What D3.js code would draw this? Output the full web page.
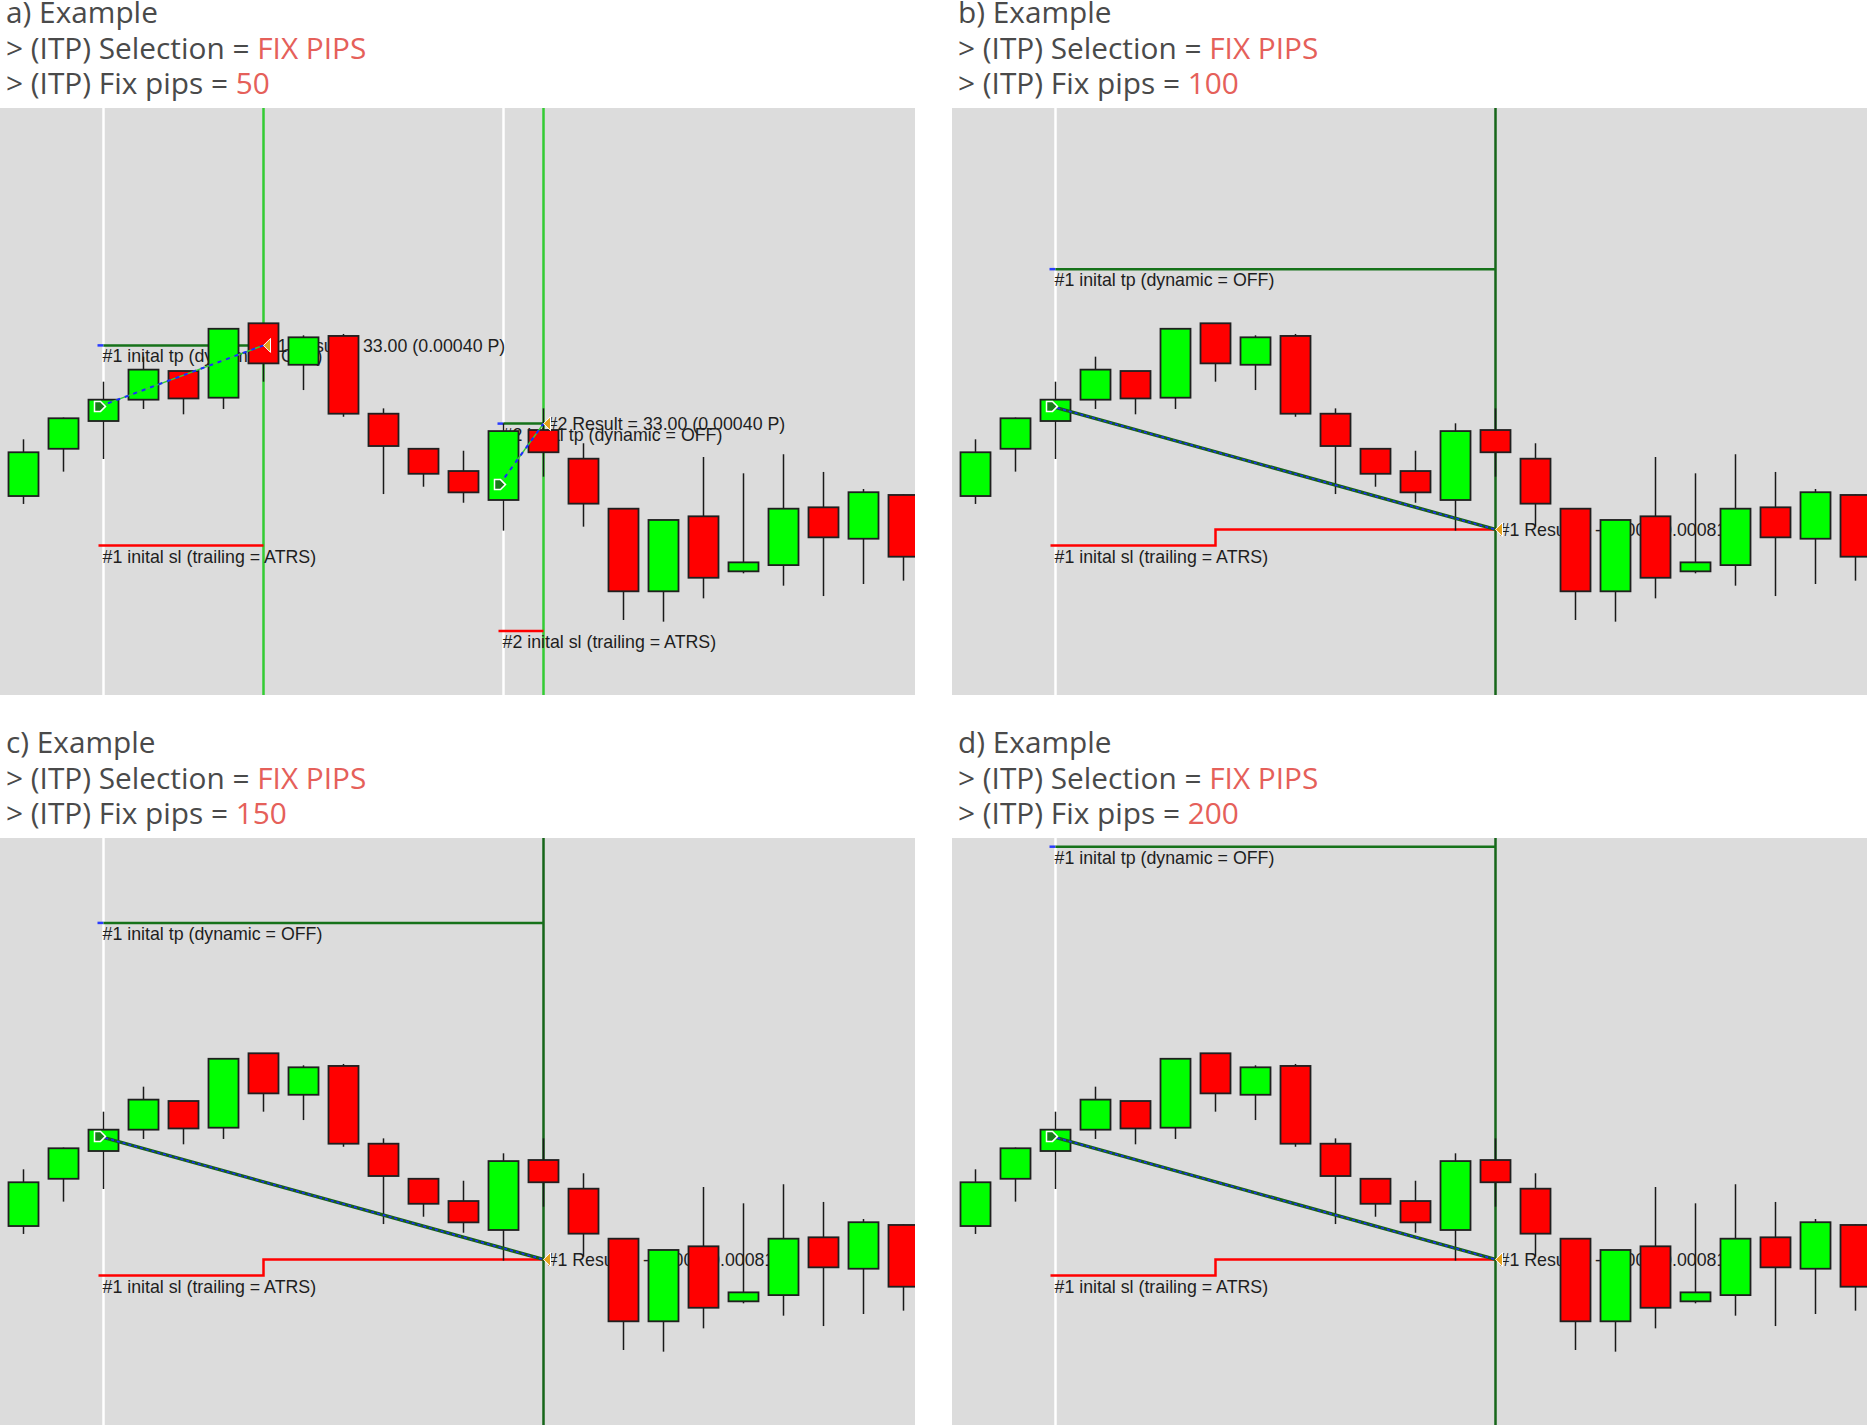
<!DOCTYPE html>
<html><head><meta charset="utf-8">
<script src="https://cdn.jsdelivr.net/npm/d3@7"></script>
<style>body{margin:0;background:#fff;} svg{display:block}</style>
</head><body><svg id="chart" width="1867" height="1426"></svg>
<script>
// ---------- data ----------
const panelNames = ["a", "b", "c", "d"];
const selectionValue = ["FIX PIPS", "FIX PIPS", "FIX PIPS", "FIX PIPS"];
const fixPips = [50, 100, 150, 200];

// price in points (0.00001)
const candleOpen  = [130.5,161.5,179.7,193.7,212.5,195.0,243.8,216.6,235.5,184.5,161.5,146.9,127.9,173.8,155.0,122.2, 68.0,117.2, 81.1, 85.2,123.1,102.5,131.2];
const candleHigh  = [167.7,182.0,205.5,221.9,212.5,240.2,244.0,235.9,236.8,188.0,161.5,160.2,178.2,188.0,165.1,122.2,114.8,156.1,145.4,157.9,146.3,135.1,131.5];
const candleLow   = [125.3,146.5,154.8,187.6,184.1,187.6,205.5,200.0,182.5,131.8,136.6,126.1,107.8,143.2,110.4, 49.2, 48.1, 63.4, 79.8, 71.7, 64.9, 72.8, 75.0];
const candleClose = [159.2,181.5,193.7,213.4,194.5,240.2,217.5,234.6,184.5,163.3,145.1,132.9,173.1,159.2,125.5, 68.0,114.8, 76.9, 87.0,122.2,103.4,133.0, 90.7];

// panel a trades
const tradesA = [
  {n: 1, entryIdx: 2,  entry: 189.3, exitIdx: 6,  exit: 229.3, tp: 229.3, sl: [[2, 98.0]],  result: "33.00 (0.00040 P)", win: true},
  {n: 2, entryIdx: 12, entry: 138.0, exitIdx: 13, exit: 178.0, tp: 178.0, sl: [[12, 42.0]], result: "33.00 (0.00040 P)", win: true}
];
// panels b, c, d: one losing trade, same SL path, different TP
const tpLevels = [229.3, 279.3, 329.3, 379.3];
const trailingSl = [[2, 98.0], [6, 108.6]];
const lossExitPrice = 108.6;
const lossResult = "-81.00 (-0.00081 P)";

// ---------- layout ----------
const svg = d3.select("#chart");
const panelW = 915, panelH = 587;
const panelPos = [[0, 108], [952, 108], [0, 838], [952, 838]];

const x = d3.scaleLinear().domain([0, 1]).range([23.5, 63.5]);
const y = d3.scaleLinear().domain([0, 385]).range([panelH, 0]);
const bodyW = 30;

const candles = candleOpen.map((o, i) => ({i, o, h: candleHigh[i], l: candleLow[i], c: candleClose[i]}));

const titleFont = "'Open Sans', sans-serif";
const labelFont = "'Liberation Sans', Arial, sans-serif";

panelNames.forEach((name, k) => {
  const [px, py] = panelPos[k];

  // titles
  const t = svg.append("g").attr("transform", `translate(${px + 6},${py})`)
    .style("font-family", titleFont).style("font-size", "29.8px").attr("fill", "#4a4a4a");
  t.append("text").attr("y", -85).text(`${name}) Example`);
  const l2 = t.append("text").attr("y", -49.5);
  l2.append("tspan").text("> (ITP) Selection = ");
  l2.append("tspan").attr("fill", "#e5605a").text(selectionValue[k]);
  const l3 = t.append("text").attr("y", -14);
  l3.append("tspan").text("> (ITP) Fix pips = ");
  l3.append("tspan").attr("fill", "#e5605a").text(fixPips[k]);

  const trades = k === 0 ? tradesA : [{
    n: 1, entryIdx: 2, entry: 189.3, exitIdx: 13, exit: lossExitPrice, tp: tpLevels[k],
    sl: trailingSl, result: lossResult, win: false
  }];

  const g = svg.append("g").attr("transform", `translate(${px},${py})`);
  g.append("clipPath").attr("id", "clip" + k).append("rect")
    .attr("width", panelW).attr("height", panelH);
  const c = g.append("g").attr("clip-path", `url(#clip${k})`);
  c.append("rect").attr("width", panelW).attr("height", panelH).attr("fill", "#dcdcdc");

  // vertical entry / exit lines
  trades.forEach(tr => {
    c.append("line").attr("x1", x(tr.entryIdx)).attr("x2", x(tr.entryIdx))
      .attr("y1", 0).attr("y2", panelH).attr("stroke", "#ffffff").attr("stroke-width", 2.5);
    c.append("line").attr("x1", x(tr.exitIdx)).attr("x2", x(tr.exitIdx))
      .attr("y1", 0).attr("y2", panelH)
      .attr("stroke", tr.win ? "#33cc33" : "#16661a").attr("stroke-width", 2.5);
  });

  // labels (behind candles)
  const lab = c.append("g").style("font-family", labelFont).style("font-size", "17.8px").attr("fill", "#1e1e1e");
  trades.forEach(tr => {
    lab.append("text").attr("x", x(tr.entryIdx) - 1).attr("y", y(tr.tp) + 17)
      .text(`#${tr.n} inital tp (dynamic = OFF)`);
    lab.append("text").attr("x", x(tr.entryIdx) - 1).attr("y", y(tr.sl[0][1]) + 17)
      .text(`#${tr.n} inital sl (trailing = ATRS)`);
    lab.append("text").attr("x", x(tr.exitIdx) + 4).attr("y", y(tr.exit) + 6.5)
      .text(`#${tr.n} Result = ${tr.result}`);
  });

  // TP and SL lines
  trades.forEach(tr => {
    c.append("line").attr("x1", x(tr.entryIdx) - 6).attr("x2", x(tr.entryIdx))
      .attr("y1", y(tr.tp)).attr("y2", y(tr.tp)).attr("stroke", "#2a3cff").attr("stroke-width", 2.5);
    c.append("line").attr("x1", x(tr.entryIdx)).attr("x2", x(tr.exitIdx))
      .attr("y1", y(tr.tp)).attr("y2", y(tr.tp)).attr("stroke", "#16721a").attr("stroke-width", 2.5);
    let d = `M${x(tr.entryIdx) - 5},${y(tr.sl[0][1])}`;
    for (let s = 1; s < tr.sl.length; s++) {
      d += `H${x(tr.sl[s][0])}V${y(tr.sl[s][1])}`;
    }
    d += `H${x(tr.exitIdx)}`;
    c.append("path").attr("d", d).attr("fill", "none").attr("stroke", "#ff0000").attr("stroke-width", 2.5);
  });

  // candles
  const cg = c.append("g");
  cg.selectAll(".wick").data(candles).join("line")
    .attr("x1", d => x(d.i)).attr("x2", d => x(d.i))
    .attr("y1", d => y(d.h)).attr("y2", d => y(d.l))
    .attr("stroke", "#1a1a1a").attr("stroke-width", 1.5);
  cg.selectAll(".body").data(candles).join("rect")
    .attr("x", d => x(d.i) - bodyW / 2).attr("width", bodyW)
    .attr("y", d => y(Math.max(d.o, d.c)))
    .attr("height", d => Math.max(1, Math.abs(y(d.o) - y(d.c))))
    .attr("fill", d => d.c >= d.o ? "#00ff00" : "#ff0000")
    .attr("stroke", "#1f1f1f").attr("stroke-width", 1.8);

  // trade lines and markers
  trades.forEach(tr => {
    const x1 = x(tr.entryIdx) - 4, y1 = y(tr.entry), x2 = x(tr.exitIdx), y2 = y(tr.exit);
    c.append("line").attr("x1", x1).attr("y1", y1).attr("x2", x2).attr("y2", y2)
      .attr("stroke", tr.win ? "#33cc33" : "#17601a").attr("stroke-width", tr.win ? 1.5 : 3.5);
    c.append("line").attr("x1", x1).attr("y1", y1).attr("x2", x2).attr("y2", y2)
      .attr("stroke", "#1a2cff").attr("stroke-width", tr.win ? 2 : 1.6)
      .attr("stroke-dasharray", tr.win ? "4,5" : "3,3");
    c.append("path").attr("transform", `translate(${x1},${y1})`)
      .attr("d", "M-5,-5 L1,-5 L6,0 L1,5 L-5,5 Z")
      .attr("fill", "#1b7a1b").attr("stroke", "#ffffff").attr("stroke-width", 1.5);
    c.append("path").attr("transform", `translate(${x2},${y2})`)
      .attr("d", "M0,0 L7,-7 L7,7 Z")
      .attr("fill", "#e4a11b").attr("stroke", "#ffffff").attr("stroke-width", 1);
  });
});
</script>
</body></html>
